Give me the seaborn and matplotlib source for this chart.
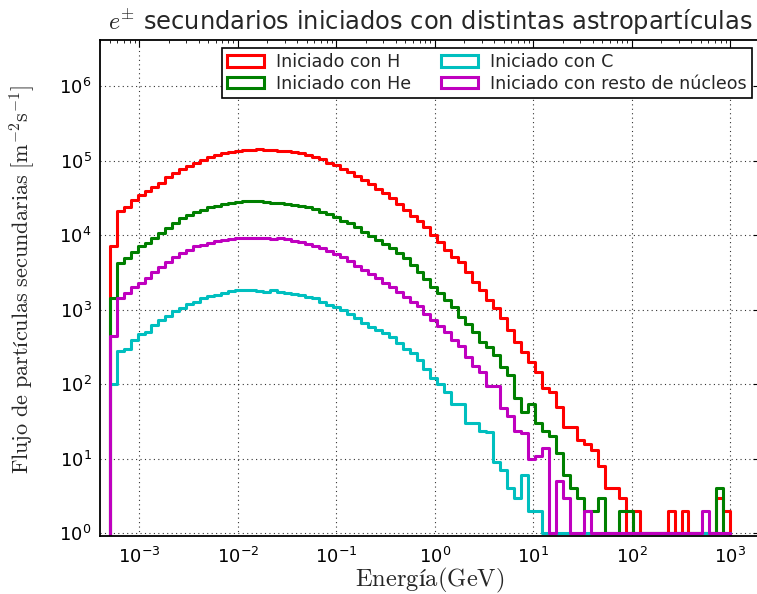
import numpy as np
import pandas as pd
import matplotlib
matplotlib.use("Agg")
import matplotlib.pyplot as plt
import seaborn as sns
from matplotlib.patches import Patch

# ---------------- data ----------------
# 89 logarithmic energy bins from 10^-3.3 GeV to 10^3 GeV
log_e_min, log_e_max, n_bins = -3.3, 3.0, 89
empty_bin = 1e-3  # value for the empty bins just outside the histogram range

flux_H = [7100, 21000, 24000, 30000, 35000, 40000, 45000, 51000, 60000, 68000,
          77000, 86000, 94000, 104000, 113000, 121000, 126000, 132000, 136000, 139000,
          141000, 144000, 142000, 141000, 137000, 136000, 132000, 126000, 120000, 114000,
          105000, 95000, 87000, 79000, 72000, 63000, 56000, 49000, 42000, 37000,
          32000, 26000, 22000, 18200, 15800, 12900, 10200, 8200, 6300, 5100,
          4400, 3200, 2400, 1850, 1350, 1050, 770, 540, 370, 275,
          200, 148, 88, 79, 50, 27, 27, 18, 16, 13,
          8, 4, 4, 3, 1, 2, 1, 1, 1, 1,
          2, 1, 2, 1, 1, 1, 1, 3, 2]

flux_He = [1430, 4200, 4900, 6000, 7150, 7950, 9300, 10700, 12600, 14500,
           17200, 18800, 20400, 22100, 23700, 25100, 26300, 27500, 28200, 28600,
           28700, 28600, 28400, 27500, 26900, 26300, 25700, 24800, 23800, 22400,
           20900, 19500, 17500, 15800, 14600, 12900, 11200, 9800, 8700, 7700,
           6700, 5800, 4900, 4000, 3200, 2600, 2000, 1660, 1350, 1100,
           810, 650, 510, 370, 320, 245, 172, 132, 66, 43,
           55, 30, 24, 20, 12, 6, 4, 3, 2, 2,
           3, 1, 1, 2, 2, 1, 1, 1, 1, 1,
           1, 1, 1, 1, 1, 1, 1, 4, 1]

flux_C = [102, 280, 300, 400, 480, 510, 620, 720, 830, 980,
          1070, 1200, 1260, 1430, 1550, 1580, 1660, 1800, 1860, 1840,
          1860, 1780, 1740, 1820, 1760, 1700, 1620, 1580, 1500, 1430,
          1290, 1160, 1100, 1000, 890, 770, 660, 590, 540, 490,
          430, 355, 300, 260, 210, 162, 120, 102, 79, 55,
          54, 30, 30, 24, 23, 9, 7, 4, 3, 6,
          2, 2, 1, 1, 1, 1, 1, 1, 1, 1,
          1, 1, 1, 1, 1, 1, 1, 1, 1, 1,
          1, 1, 1, 1, 1, 1, 1, 1, 1]

flux_rest = [445, 1430, 1660, 2000, 2300, 2700, 3200, 3800, 4400, 5200,
             5750, 6450, 7200, 7400, 7950, 8400, 8700, 8900, 9100, 9300,
             9300, 9300, 9100, 8900, 9100, 8900, 8400, 8100, 7650, 7250,
             6700, 6250, 5600, 5100, 4550, 3900, 3400, 3000, 2700, 2300,
             2000, 1720, 1500, 1290, 1120, 890, 725, 600, 510, 400,
             330, 235, 178, 148, 95, 95, 48, 38, 24, 22,
             10, 11, 14, 1, 5, 3, 1, 1, 2, 1,
             1, 1, 1, 1, 1, 1, 1, 1, 1, 1,
             1, 1, 1, 1, 1, 2, 1, 1, 1]

labels = ["Iniciado con H", "Iniciado con He", "Iniciado con C",
          "Iniciado con resto de núcleos"]
series = [flux_H, flux_He, flux_C, flux_rest]
colors = ["#ff0000", "#008000", "#00bfbf", "#bf00bf"]

title = r"$e^{\pm}$ secundarios iniciados con distintas astropartículas"
xlabel = r"$\mathrm{Energía(GeV)}$"
ylabel = r"$\mathrm{Flujo\ de\ partículas\ secundarias\ [m^{-2}s^{-1}]}$"

# ---------------- style ----------------
sns.set_style("white")
plt.rcParams.update({
    "font.family": ["DejaVu Sans"],
    "mathtext.fontset": "cm",
    "axes.unicode_minus": False,
    "xtick.direction": "in",
    "ytick.direction": "in",
})

fig = plt.figure(figsize=(7.57, 5.94), dpi=100)
ax = fig.add_axes([100 / 757, 58 / 594, 660 / 757, 496 / 594])

edges = np.linspace(log_e_min, log_e_max, n_bins + 1)
w = edges[1] - edges[0]
all_edges = np.concatenate([[edges[0] - w], edges, [edges[-1] + w]])
centers = 10 ** (0.5 * (all_edges[:-1] + all_edges[1:]))

for flux, color in zip(series, colors):
    df = pd.DataFrame({"E": centers,
                       "flux": np.concatenate([[empty_bin], flux, [empty_bin]])})
    sns.histplot(data=df, x="E", weights="flux", bins=list(all_edges),
                 element="step", fill=False, color=color, linewidth=2.2,
                 log_scale=(True, True), ax=ax)

ax.set_xlim(4e-4, 2e3)
ax.set_ylim(0.92, 4.2e6)

ax.grid(True, which="major", color="black", linestyle=(0, (1, 3)),
        linewidth=0.8, alpha=0.8)
ax.tick_params(which="both", top=True, right=True, direction="in",
               colors="black", labelsize=13)
ax.tick_params(which="major", length=5, width=0.8)
ax.tick_params(which="minor", length=2.5, width=0.6)
ax.tick_params(axis="x", pad=8)
ax.tick_params(axis="y", pad=6)
for s in ax.spines.values():
    s.set_color("black")
    s.set_linewidth(1.3)

ax.set_title(title, fontsize=17.4, pad=7)
ax.set_xlabel(xlabel, fontsize=17.7)
ax.set_ylabel(ylabel, fontsize=16)
ax.xaxis.set_label_coords(0.5, -0.061)
ax.yaxis.set_label_coords(-0.096, 0.518)

handles = [Patch(facecolor="white", edgecolor=c, linewidth=2.2, label=l)
           for c, l in zip(colors, labels)]
leg = ax.legend(handles=handles, ncol=2, loc="upper right", fontsize=12.6,
                frameon=True, fancybox=False, framealpha=1,
                edgecolor="black", handlelength=2.1, handleheight=0.65,
                handletextpad=0.7, columnspacing=1.7, labelspacing=0.2,
                borderpad=0.3, borderaxespad=0.45)
leg.get_frame().set_linewidth(1.2)

fig.savefig("out.png", dpi=100)
